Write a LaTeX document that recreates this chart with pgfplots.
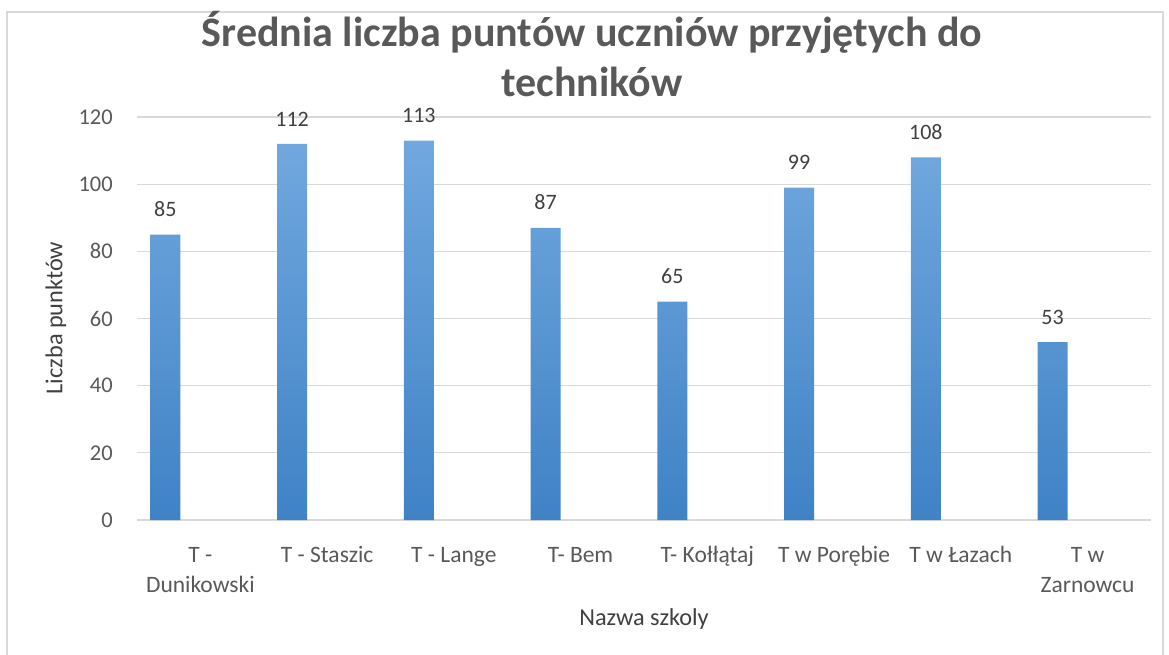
\documentclass[border=0pt]{standalone}
\usepackage{fontspec}
\setmainfont{Carlito}
\usepackage{pgfplots}
\pgfplotsset{compat=1.18}
\definecolor{txtgray}{HTML}{595959}
\definecolor{lblgray}{HTML}{404040}
\definecolor{gridgray}{HTML}{D9D9D9}
\definecolor{bartop}{HTML}{71A8DE}
\definecolor{barbot}{HTML}{3F82C6}
\setlength{\tabcolsep}{0pt}
\newcommand{\two}[2]{\begin{tabular}[t]{c}#1\\#2\end{tabular}}

\begin{document}
\begin{tikzpicture}[x=1pt,y=1pt]
\useasboundingbox (0,0) rectangle (1169,654);
% chart frame
\draw[gridgray, line width=1.3pt] (7,-5) -- (7,642) -- (1163,642) -- (1163,-5);

\begin{axis}[
  at={(137pt,134pt)}, anchor=south west,
  scale only axis, width=1014pt, height=403pt,
  ybar, bar width=0.237, bar shift=-0.276,
  xmin=-0.5, xmax=7.5, ymin=0, ymax=120,
  xtick={0,...,7},
  xticklabels={{\two{T -}{Dunikowski}},{T - Staszic},{T - Lange},{T- Bem},{T- Kołłątaj},{T w Porębie},{T w Łazach},{\two{T w}{Zarnowcu}}},
  ytick={0,20,...,120},
  ymajorgrids, grid style={gridgray, line width=1.3pt},
  axis lines*=left,
  x axis line style={gridgray, line width=1.3pt, -},
  y axis line style={draw=none},
  tick style={draw=none},
  /pgf/number format/assume math mode=true,
  xticklabel style={font=\fontsize{23.5}{30}\selectfont, text=txtgray, anchor=base, inner sep=0pt, yshift=-38pt},
  yticklabel style={font=\fontsize{22.5}{27}\selectfont, text=txtgray, anchor=east, inner sep=0pt, xshift=-24pt},
  nodes near coords,
  every node near coord/.append style={font=\fontsize{22}{26}\selectfont, text=lblgray, anchor=south, inner sep=0pt, yshift=17.5pt},
  clip=false,
]
\addplot[draw=none, top color=bartop, bottom color=barbot]
  coordinates {(0,85) (1,112) (2,113) (3,87) (4,65) (5,99) (6,108) (7,53)};
\end{axis}

% title
\node[anchor=base, font=\fontsize{42}{50}\selectfont\bfseries, text=txtgray] at (592,607) {Średnia liczba puntów uczniów przyjętych do};
\node[anchor=base, font=\fontsize{42}{50}\selectfont\bfseries, text=txtgray] at (592,557) {techników};
% axis titles
\node[anchor=base, font=\fontsize{24.3}{29}\selectfont, text=lblgray] at (644,29) {Nazwa szkoly};
\node[rotate=90, anchor=center, font=\fontsize{24.3}{29}\selectfont, text=lblgray] at (56,336) {Liczba punktów};
\end{tikzpicture}
\end{document}
